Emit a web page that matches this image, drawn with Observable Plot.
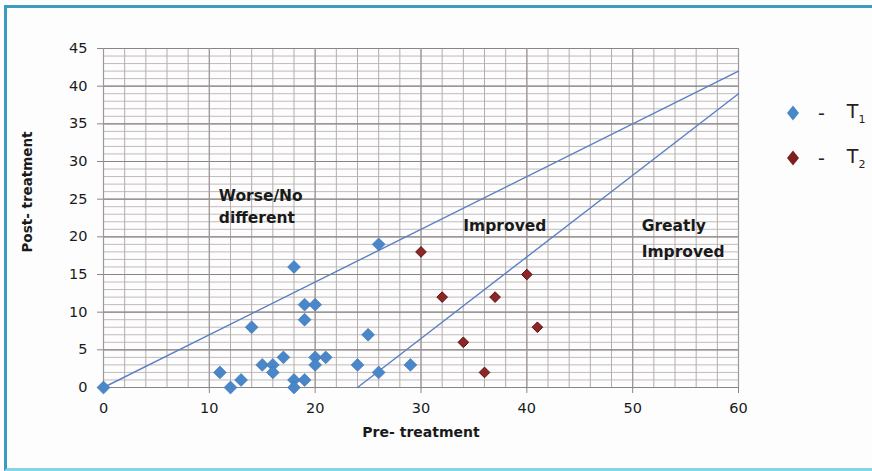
<!DOCTYPE html>
<html><head><meta charset="utf-8">
<script src="https://cdn.jsdelivr.net/npm/d3@7"></script>
<script src="https://cdn.jsdelivr.net/npm/@observablehq/plot@0.6"></script>
<style>
body{margin:0;background:#fdfdfd;width:872px;height:471px;overflow:hidden;position:relative;font-family:"DejaVu Sans",sans-serif}
#frame{position:absolute;left:4px;top:5px;width:900px;height:466px;box-sizing:border-box;border-left:3px solid #3b9dbd;border-top:3px solid #3b9dbd;border-bottom:3px solid #86d2e6}
#chart{position:absolute;left:0;top:0}
.leg{position:absolute;left:784px;height:22px;display:flex;align-items:center;font-size:19px;color:#222;white-space:nowrap}
.leg svg{margin-right:16px}
.leg .dash{margin-right:22px}
.leg sub{font-size:11px}
</style></head>
<body>
<div id="frame"></div>
<div id="chart"></div>
<div class="leg" style="top:102px"><svg width="18" height="18" viewBox="-9 -9 18 18"><path d="M0,-7.5L6,0L0,7.5L-6,0Z" fill="#4a87c9"/></svg><span class="dash">-</span><span>T<sub>1</sub></span></div>
<div class="leg" style="top:147px"><svg width="18" height="18" viewBox="-9 -9 18 18"><path d="M0,-7.5L6,0L0,7.5L-6,0Z" fill="#7e1f1f"/></svg><span class="dash">-</span><span>T<sub>2</sub></span></div>
<script>
// T1 series
const t1Pre  = [0, 11, 12, 13, 14, 15, 16, 16, 17, 18, 18, 18, 19, 19, 19, 20, 20, 20, 21, 24, 25, 26, 26, 29];
const t1Post = [0,  2,  0,  1,  8,  3,  3,  2,  4, 16,  1,  0, 11,  9,  1, 11,  4,  3,  4,  3,  7, 19,  2,  3];
// T2 series
const t2Pre  = [30, 32, 34, 36, 37, 40, 41];
const t2Post = [18, 12,  6,  2, 12, 15,  8];
// boundary lines
const line1Pre = [0, 60], line1Post = [0, 42];
const line2Pre = [24, 60], line2Post = [0, 39];
// region labels (one entry per text line)
const regionText = ["Worse/No", "different", "Improved", "Greatly", "Improved"];
const regionPre  = [10.9, 10.9, 34.0, 50.85, 50.85];
const regionPost = [25.35, 22.45, 21.5, 21.4, 17.95];
// ticks
const xTicks = [0, 10, 20, 30, 40, 50, 60];
const yTicks = [0, 5, 10, 15, 20, 25, 30, 35, 40, 45];
const xMinor = d3.range(0, 61, 2);
const yMinor = d3.range(0, 46, 1);

const t1 = t1Pre.map((x, i) => ({x, y: t1Post[i]}));
const t2 = t2Pre.map((x, i) => ({x, y: t2Post[i]}));
const l1 = line1Pre.map((x, i) => ({x, y: line1Post[i]}));
const l2 = line2Pre.map((x, i) => ({x, y: line2Post[i]}));
const regions = regionText.map((t, i) => ({t, x: regionPre[i], y: regionPost[i]}));

const font = '"DejaVu Sans", sans-serif';

const chart = Plot.plot({
  width: 872, height: 471,
  marginLeft: 103, marginRight: 134, marginTop: 48, marginBottom: 84,
  style: {fontFamily: font, background: "transparent", color: "#1a1a1a"},
  x: {domain: [0, 60]},
  y: {domain: [0, 45]},
  marks: [
    Plot.ruleY(yMinor, {stroke: "#c2baba", strokeWidth: 1}),
    Plot.ruleX(xMinor, {stroke: "#b5adad", strokeWidth: 1}),
    Plot.ruleY(yTicks, {stroke: "#8c8484", strokeWidth: 1.2}),
    Plot.ruleX(xTicks, {stroke: "#a09898", strokeWidth: 1.2}),
    Plot.axisY({ticks: yTicks, tickSize: 6, tickPadding: 10, fontSize: 14.5, stroke: "#8c8484", label: null}),
    Plot.axisX({ticks: xTicks, tickSize: 6, tickPadding: 9, fontSize: 14.5, stroke: "#8c8484", label: null}),
    Plot.text(["Pre- treatment"], {frameAnchor: "bottom", dy: 49, fontSize: 14, fontWeight: "bold", fill: "#1a1a1a"}),
    Plot.text(["Post- treatment"], {frameAnchor: "left", textAnchor: "middle", dx: -76, dy: -26, rotate: -90, fontSize: 13.5, fontWeight: "bold", fill: "#1a1a1a"}),
    Plot.line(l1, {x: "x", y: "y", stroke: "#5a80c4", strokeWidth: 1.4}),
    Plot.line(l2, {x: "x", y: "y", stroke: "#5a80c4", strokeWidth: 1.4}),
    Plot.text(regions, {x: "x", y: "y", text: "t", textAnchor: "start", fontSize: 15.5, fontWeight: "bold", fill: "#1a1a1a"}),
    Plot.dot(t1, {x: "x", y: "y", symbol: "diamond2", r: 5.8, fill: "#4a87c9", stroke: "#3b72b2", strokeWidth: 0.6}),
    Plot.dot(t2, {x: "x", y: "y", symbol: "diamond2", r: 4.8, fill: "#8e2626", stroke: "#5a1212", strokeWidth: 1})
  ]
});
document.getElementById("chart").appendChild(chart);
</script>
</body></html>
